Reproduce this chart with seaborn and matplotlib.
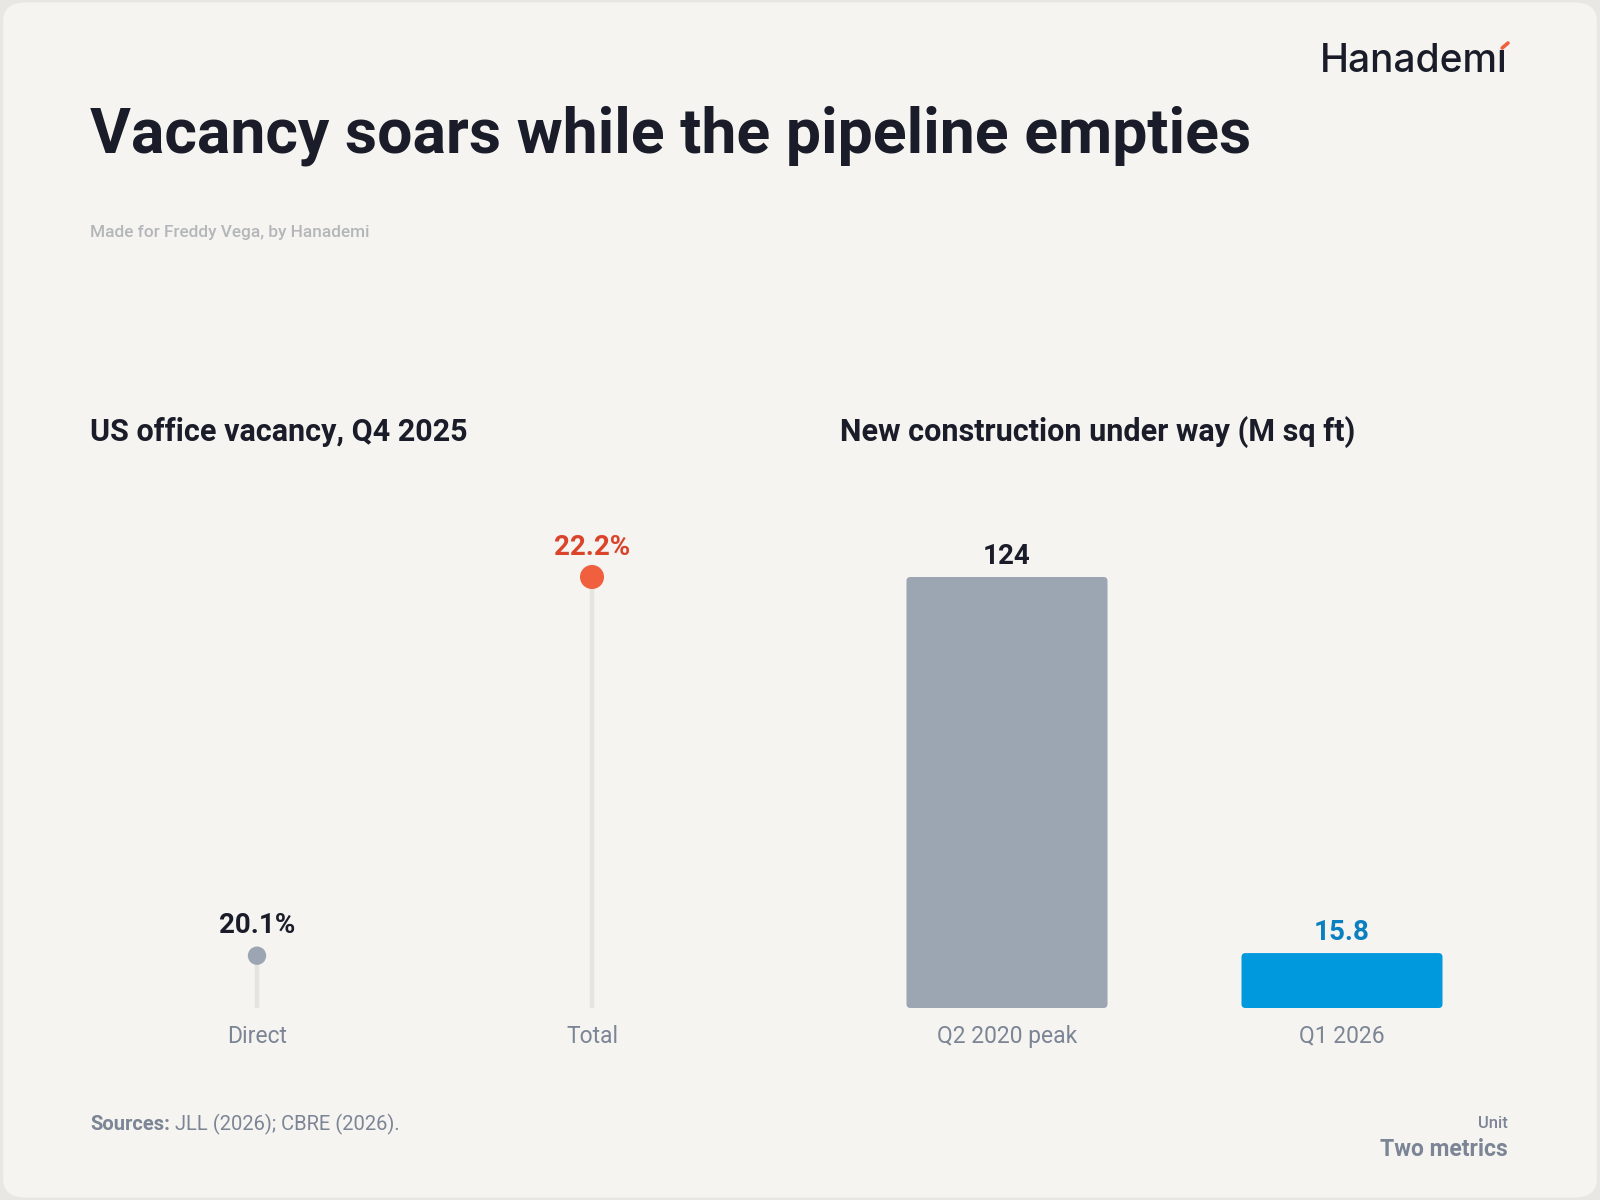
import matplotlib
matplotlib.use("Agg")
import matplotlib.pyplot as plt
from matplotlib.patches import FancyBboxPatch
import seaborn as sns
import pandas as pd

# --- data ---
vacancy_labels = ["Direct", "Total"]
vacancy_values = [20.1, 22.2]
vacancy_text = ["20.1%", "22.2%"]

construction_labels = ["Q2 2020 peak", "Q1 2026"]
construction_values = [124, 15.8]
construction_text = ["124", "15.8"]

# --- style ---
BG = "#f5f4f0"
OUTER = "#e8e7e3"
INK = "#1a1d29"
MUTED = "#7c8595"
STEM = "#e6e4df"
GRAY = "#9ca6b3"
ORANGE = "#f0603f"
ORANGE_TXT = "#d9442b"
BLUE = "#0099dd"
BLUE_TXT = "#0a80c0"

sns.set_theme(style="white")
plt.rcParams["font.family"] = ["Roboto", "DejaVu Sans"]

fig = plt.figure(figsize=(16, 12), dpi=100)
fig.patch.set_facecolor(OUTER)
card = FancyBboxPatch((0.002, 0.002), 0.996, 0.996, transform=fig.transFigure,
                      boxstyle="round,pad=0,rounding_size=0.015",
                      facecolor=BG, edgecolor="none", zorder=-10)
fig.patches.append(card)

# header
fig.text(90 / 1600, 1 - 152 / 1200, "Vacancy soars while the pipeline empties",
         fontsize=45, fontweight="bold", color=INK, va="baseline", ha="left")
fig.text(90 / 1600, 1 - 232 / 1200, "Made for Freddy Vega, by Hanademi",
         fontsize=12.4, fontweight="medium", color="#b4b6ba", va="center", ha="left")

# panel layout: each panel spans two category slots of equal width
bottom = 0.16
height = 508 / 1200
ax1 = fig.add_axes([89.5 / 1600, bottom, 670 / 1600, height])
ax2 = fig.add_axes([839.5 / 1600, bottom, 670 / 1600, height])

# logo: dotless i, with a small orange stroke for the dot
logo = fig.text(1508 / 1600, 1 - 72 / 1200, "Hanademı", color=INK, fontsize=28,
                fontweight="medium", family=["Inter", "DejaVu Sans"],
                va="baseline", ha="right")
ax1.annotate("", xy=(1, 1), xycoords=logo, xytext=(-4.2, -3.6),
             textcoords=("offset points"),
             arrowprops=dict(arrowstyle="-", color=ORANGE, lw=2.6,
                             shrinkA=0, shrinkB=0, capstyle="round"),
             annotation_clip=False)

fig.text(90 / 1600, 1 - 432 / 1200, "US office vacancy, Q4 2025",
         fontsize=22, fontweight="bold", color=INK, va="center", ha="left")
fig.text(840 / 1600, 1 - 432 / 1200, "New construction under way (M sq ft)",
         fontsize=22, fontweight="bold", color=INK, va="center", ha="left")

# top of the tallest mark sits at the same height in both panels
top_frac = 431 / 508

# --- left: lollipops ---
vac = pd.DataFrame({"label": vacancy_labels, "value": vacancy_values})
base = 19.81
ax1.set_ylim(base, base + (max(vacancy_values) - base) / top_frac)
ax1.set_xlim(-0.5, 1.5)
xs = range(len(vac))
ax1.vlines(list(xs), base, vac["value"], color=STEM, linewidth=3.2, zorder=1)
sns.scatterplot(data=vac, x="label", y="value", hue="label", size="label",
                palette=[GRAY, ORANGE], sizes=[175, 300], legend=False,
                edgecolor="none", ax=ax1, zorder=3)
for i, (v, t, c) in enumerate(zip(vacancy_values, vacancy_text, [INK, ORANGE_TXT])):
    ax1.annotate(t, (i, v), xytext=(0, 21.5), textcoords="offset points",
                 ha="center", va="center", fontsize=20, fontweight="bold", color=c)

# --- right: bars ---
con = pd.DataFrame({"label": construction_labels, "value": construction_values})
sns.barplot(data=con, x="label", y="value", hue="label", palette=[GRAY, BLUE],
            width=0.6, legend=False, ax=ax2, saturation=1)
ax2.set_ylim(0, max(construction_values) / top_frac)
ax2.set_xlim(-0.5, 1.5)

# swap bars for rounded ones
yr = ax2.get_ylim()[1] / 508
xr = 2 / 670
for p in list(ax2.patches):
    x0, y0, w, h = p.get_x(), p.get_y(), p.get_width(), p.get_height()
    rb = FancyBboxPatch((x0, y0), w, h,
                        boxstyle=f"round,pad=0,rounding_size={4 * xr}",
                        mutation_aspect=yr / xr,
                        facecolor=p.get_facecolor(), edgecolor="none", zorder=2)
    p.remove()
    ax2.add_patch(rb)
for i, (v, t, c) in enumerate(zip(construction_values, construction_text, [INK, BLUE_TXT])):
    ax2.annotate(t, (i, v), xytext=(0, 14.5), textcoords="offset points",
                 ha="center", va="center", fontsize=20, fontweight="bold", color=c)

for ax in (ax1, ax2):
    ax.set_facecolor("none")
    sns.despine(ax=ax, left=True, bottom=True)
    ax.set_xlabel("")
    ax.set_ylabel("")
    ax.set_yticks([])
    ax.tick_params(axis="x", length=0, pad=12, labelsize=16.5, labelcolor=MUTED)
    ax.grid(False)

# footer
src = fig.text(90 / 1600, 1 - 1124 / 1200, "Sources:", fontsize=14.5, fontweight="bold",
               color=MUTED, va="center", ha="left")
ax1.annotate("JLL (2026); CBRE (2026).", xy=(1, 0.5), xycoords=src,
             xytext=(4, 0), textcoords="offset points", fontsize=14.5,
             color=MUTED, va="center", ha="left")
fig.text(1508 / 1600, 1 - 1123 / 1200, "Unit", fontsize=12, fontweight="medium",
         color=MUTED, va="center", ha="right")
fig.text(1508 / 1600, 1 - 1149 / 1200, "Two metrics", fontsize=16.5, fontweight="bold",
         color=MUTED, va="center", ha="right")

fig.savefig("out.png", dpi=100, facecolor=fig.get_facecolor())
